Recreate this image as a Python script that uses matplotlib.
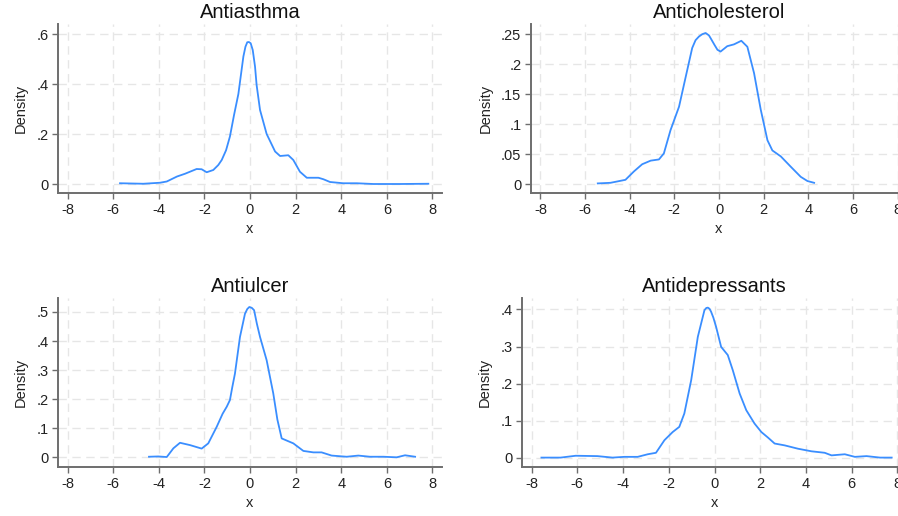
import matplotlib.pyplot as plt

plt.rcParams["font.family"] = ["Liberation Sans", "DejaVu Sans"]

# ===== DATA =====
asthma_x = [-5.70, -4.68, -3.95, -3.65, -3.20, -2.85, -2.34, -2.12, -1.90, -1.61, -1.39, -1.24,
            -1.05, -0.88, -0.70, -0.51, -0.29, -0.20, -0.12, -0.05, 0.03, 0.12, 0.22, 0.29,
            0.44, 0.73, 1.10, 1.32, 1.68, 1.90, 2.19, 2.49, 3.00, 3.22, 3.51, 4.09, 4.68,
            5.41, 6.58, 7.82]
asthma_y = [0.003, 0.001, 0.005, 0.010, 0.030, 0.041, 0.060, 0.059, 0.047, 0.056, 0.076, 0.096,
            0.135, 0.190, 0.276, 0.360, 0.510, 0.549, 0.567, 0.568, 0.563, 0.536, 0.470, 0.396,
            0.296, 0.200, 0.130, 0.112, 0.115, 0.096, 0.049, 0.025, 0.025, 0.019, 0.008, 0.003,
            0.003, 0.000, 0.000, 0.001]

chol_x = [-5.43, -4.86, -4.19, -3.81, -3.44, -3.06, -2.69, -2.47, -2.17, -1.79, -1.49, -1.20,
          -1.05, -0.90, -0.75, -0.60, -0.45, -0.37, -0.20, -0.07, 0.07, 0.37, 0.67, 1.00,
          1.27, 1.57, 1.87, 2.17, 2.39, 2.77, 3.21, 3.66, 3.96, 4.26]
chol_y = [0.001, 0.002, 0.007, 0.021, 0.033, 0.039, 0.041, 0.051, 0.090, 0.129, 0.179, 0.227,
          0.240, 0.246, 0.250, 0.252, 0.248, 0.243, 0.232, 0.224, 0.221, 0.230, 0.233, 0.239,
          0.229, 0.185, 0.124, 0.073, 0.056, 0.046, 0.029, 0.012, 0.005, 0.002]

ulcer_x = [-4.43, -4.02, -3.65, -3.36, -3.07, -2.63, -2.12, -1.83, -1.46, -1.20, -1.02, -0.88,
           -0.78, -0.66, -0.44, -0.22, -0.12, -0.03, 0.08, 0.18, 0.30, 0.44, 0.73, 1.02, 1.20,
           1.39, 1.90, 2.34, 2.78, 3.14, 3.58, 4.24, 4.75, 5.26, 5.85, 6.43, 6.80, 7.24]
ulcer_y = [0.002, 0.003, 0.001, 0.031, 0.050, 0.042, 0.030, 0.048, 0.105, 0.150, 0.174, 0.197,
           0.240, 0.288, 0.414, 0.494, 0.510, 0.517, 0.514, 0.506, 0.460, 0.414, 0.334, 0.220,
           0.130, 0.065, 0.048, 0.022, 0.017, 0.017, 0.006, 0.002, 0.006, 0.002, 0.002, 0.000,
           0.007, 0.002]

depr_x = [-7.57, -6.73, -6.07, -5.12, -4.46, -3.95, -3.36, -2.92, -2.56, -2.19, -1.83, -1.54,
          -1.32, -1.02, -0.73, -0.44, -0.36, -0.29, -0.22, -0.15, -0.05, 0.07, 0.29, 0.58,
          0.80, 1.10, 1.39, 1.75, 2.05, 2.34, 2.63, 3.07, 3.65, 4.24, 4.82, 5.12, 5.70, 6.14,
          6.65, 7.24, 7.75]
depr_y = [0.000, 0.000, 0.005, 0.004, 0.000, 0.002, 0.002, 0.009, 0.013, 0.047, 0.069, 0.083,
          0.119, 0.209, 0.326, 0.398, 0.404, 0.405, 0.402, 0.394, 0.378, 0.353, 0.299, 0.277,
          0.236, 0.173, 0.128, 0.092, 0.069, 0.054, 0.038, 0.033, 0.024, 0.017, 0.013, 0.006,
          0.009, 0.002, 0.004, 0.000, 0.000]

titles = ["Antiasthma", "Anticholesterol", "Antiulcer", "Antidepressants"]
x_ticks = [-8, -6, -4, -2, 0, 2, 4, 6, 8]
y_ticks = [[0, 0.2, 0.4, 0.6],
           [0, 0.05, 0.1, 0.15, 0.2, 0.25],
           [0, 0.1, 0.2, 0.3, 0.4, 0.5],
           [0, 0.1, 0.2, 0.3, 0.4]]
y_labels = [["0", ".2", ".4", ".6"],
            ["0", ".05", ".1", ".15", ".2", ".25"],
            ["0", ".1", ".2", ".3", ".4", ".5"],
            ["0", ".1", ".2", ".3", ".4"]]
series = [(asthma_x, asthma_y), (chol_x, chol_y), (ulcer_x, ulcer_y), (depr_x, depr_y)]

# ===== LAYOUT (pixel boxes: left, top, right, bottom) =====
W, H = 898, 516
boxes = [(58, 24, 442, 193), (531, 24, 907, 193), (58, 298, 442, 467), (522, 298, 907, 467)]
ylims = [(-0.036, 0.64), (-0.015, 0.267), (-0.0333, 0.548), (-0.0254, 0.431)]

fig = plt.figure(figsize=(W / 100, H / 100), dpi=100)
line_color = "#3a8eff"
spine_color = "#6e6e6e"

for i in range(4):
    l, t, r, b = boxes[i]
    ax = fig.add_axes([l / W, (H - b) / H, (r - l) / W, (b - t) / H])
    ax.plot(series[i][0], series[i][1], color=line_color, lw=1.3)
    ax.set_xlim(-8.42, 8.42)
    ax.set_ylim(*ylims[i])
    ax.set_xticks(x_ticks)
    ax.set_xticklabels([str(v) for v in x_ticks])
    ax.set_yticks(y_ticks[i])
    ax.set_yticklabels(y_labels[i])
    ax.grid(True, color="#e6e6e6", linestyle=(0, (6, 4)), lw=1.0)
    ax.set_axisbelow(True)
    for s in ["top", "right"]:
        ax.spines[s].set_visible(False)
    for s in ["left", "bottom"]:
        ax.spines[s].set_color(spine_color)
        ax.spines[s].set_linewidth(1.4)
    ax.tick_params(direction="out", length=4, width=1.0, color=spine_color,
                   labelsize=10.5, labelcolor="#222222", pad=3)
    ax.set_title(titles[i], fontsize=14.5, color="#111111", pad=4)
    ax.set_xlabel("x", fontsize=10.5, color="#222222", labelpad=4)
    ax.set_ylabel("Density", fontsize=10.5, color="#222222", labelpad=6)

fig.savefig("out.png", dpi=100, facecolor="white")
